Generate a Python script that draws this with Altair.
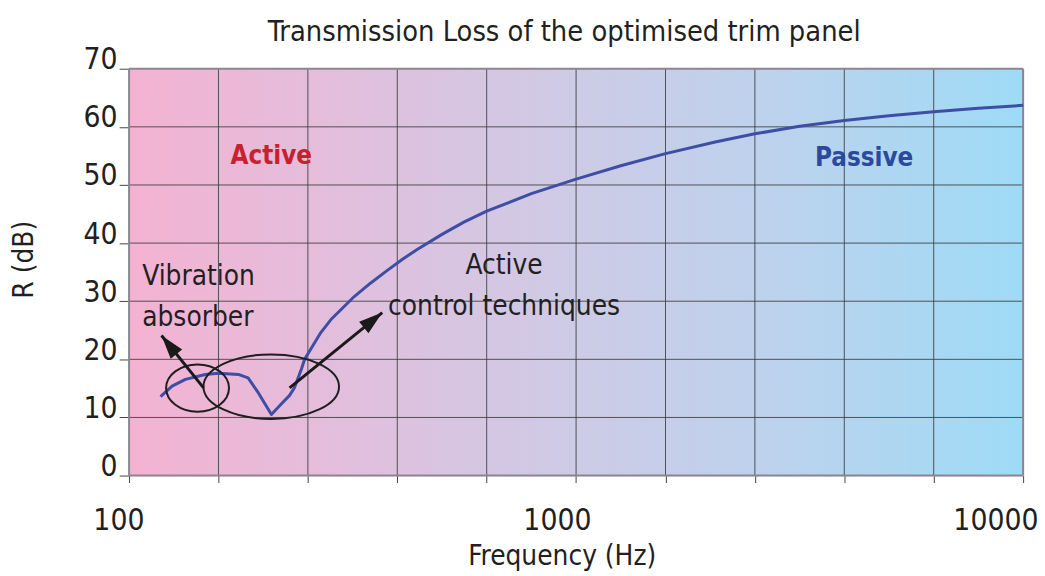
import altair as alt
import pandas as pd

FONT = "Liberation Sans Narrow, Arial Narrow, DejaVu Sans Condensed, sans-serif"
INK = "#231F20"
W, H = 901, 410

# ---- data ----
freq = [117.6, 124.8, 133.7, 148.1, 158.5, 175.6, 184.6, 194.4, 208.2, 219.0,
        228.6, 234.4, 242.9, 247.0, 268.5, 282.6, 319.0, 346.7, 378.2, 410.5,
        441.0, 501.2, 560.9, 631.0, 794.3, 1000.0, 1258.9, 1584.9, 2047.0,
        2511.9, 3162.0, 3981.0, 5012.0, 6310.0, 7943.0, 10000.0]
loss = [13.6, 15.4, 16.55, 17.4, 17.6, 17.4, 16.8, 14.3, 10.5, 12.3,
        13.8, 15.1, 18.3, 20.0, 24.6, 26.8, 30.8, 33.1, 35.3, 37.3,
        38.9, 41.5, 43.6, 45.5, 48.5, 51.0, 53.3, 55.4, 57.4,
        58.8, 60.1, 61.1, 61.9, 62.6, 63.2, 63.7]

grid_freqs = [100, 158.5, 251.2, 398.1, 631, 1000, 1585, 2512, 3981, 6310, 10000]
grid_db = [0, 10, 20, 30, 40, 50, 60, 70]
x_labels = [100, 1000, 10000]

chart_title = "Transmission Loss of the optimised trim panel"

# annotation anchors (data units)
region_text = ["Active", "Passive"]
region_x = [208.0, 4410.0]
region_y = [53.66, 53.27]

left_text = ["Vibration", "absorber"]
left_x = [107.0, 107.0]
left_y = [32.78, 25.66]

center_text = ["Active", "control techniques"]
center_x = [690.0, 690.0]
center_y = [34.6, 27.57]

ellipse_small = {"x": [142.3], "y": [15.06]}
ellipse_large = {"x": [208.0], "y": [15.3]}

arrow_tail_x = [146.8, 228.6]
arrow_tail_y = [15.1, 15.1]
arrow_head_x = [118.2, 368.5]
arrow_head_y = [24.1, 28.05]

# ---- scales & axes ----
xs = alt.Scale(type="log", domain=[100, 10000], nice=False)
ys = alt.Scale(domain=[0, 70], nice=False, zero=False)

label_expr = ("indexof([" + ",".join(str(v) for v in x_labels)
              + "], datum.value) >= 0 ? datum.label : ''")

x_axis = alt.Axis(
    values=grid_freqs, format="d", labelExpr=label_expr, grid=False, domain=False,
    ticks=True, tickSize=7, tickColor="#444", tickWidth=1,
    labelFont=FONT, labelFontSize=30, labelColor=INK, labelBaseline="alphabetic",
    labelPadding=47, labelAlign="right", labelOffset=15, labelOverlap=False, labelFlush=False,
    title="Frequency (Hz)", titleFont=FONT, titleFontSize=28, titleFontWeight="normal",
    titleColor=INK, titleBaseline="alphabetic", titleAlign="center", titleX=436, titleY=90,
)
y_axis = alt.Axis(
    values=grid_db, grid=False, domain=False, ticks=True, tickSize=10,
    tickColor="#444", tickWidth=1,
    labelFont=FONT, labelFontSize=30, labelColor=INK, labelBaseline="alphabetic",
    labelPadding=2, labelOverlap=False, labelFlush=False,
    title="R (dB)", titleFont=FONT, titleFontSize=28, titleFontWeight="normal",
    titleColor=INK, titleBaseline="alphabetic", titleAlign="center", titleAngle=270,
    titleX=-97, titleY=192,
)


def X(field, **kw):
    return alt.X(field, type="quantitative", scale=xs, axis=x_axis, **kw)


def Y(field, **kw):
    return alt.Y(field, type="quantitative", scale=ys, axis=y_axis, **kw)


grad = alt.LinearGradient(
    gradient="linear", x1=0, x2=1, y1=0, y2=0,
    stops=[
        alt.GradientStop(color="#F4B2D2", offset=0),
        alt.GradientStop(color="#DDC2DF", offset=0.3),
        alt.GradientStop(color="#CDCBE6", offset=0.5),
        alt.GradientStop(color="#BAD3EE", offset=0.75),
        alt.GradientStop(color="#9EDBF6", offset=1),
    ],
)

bg = alt.Chart(pd.DataFrame({"x": [grid_freqs[0]], "x2": [grid_freqs[-1]],
                             "y": [grid_db[0]], "y2": [grid_db[-1]]})).mark_rect(
    color=grad, strokeWidth=0
).encode(x=X("x"), x2="x2:Q", y=Y("y"), y2="y2:Q")

vgrid = alt.Chart(pd.DataFrame({"x": grid_freqs[1:-1]})).mark_rule(
    color="#3a3a3a", strokeWidth=1, opacity=0.85
).encode(x=X("x"))

hgrid = alt.Chart(pd.DataFrame({"y": grid_db[1:-1]})).mark_rule(
    color="#3a3a3a", strokeWidth=1, opacity=0.85
).encode(y=Y("y"))

vborder = alt.Chart(pd.DataFrame({"x": [grid_freqs[0], grid_freqs[-1]]})).mark_rule(
    color="#8e8590", strokeWidth=2
).encode(x=X("x"))

hborder = alt.Chart(pd.DataFrame({"y": [grid_db[0], grid_db[-1]]})).mark_rule(
    color="#8e8590", strokeWidth=2
).encode(y=Y("y"))

curve = alt.Chart(pd.DataFrame({"x": freq, "y": loss})).mark_line(
    color="#3E4EA5", strokeWidth=3, interpolate="linear", strokeJoin="round"
).encode(x=X("x"), y=Y("y"))

k = 0.5523


def ellipse_path(r):
    kr = round(k * r, 4)
    rr = round(r, 4)
    return (f"M -1 0 C -1 {-kr} {-k} {-rr} 0 {-rr} C {k} {-rr} 1 {-kr} 1 0 "
            f"C 1 {kr} {k} {rr} 0 {rr} C {-k} {rr} -1 {kr} -1 0 Z")


ell_small = alt.Chart(pd.DataFrame(ellipse_small)).mark_point(
    shape=ellipse_path(0.75), size=4020, filled=False, stroke="#1e1e1e",
    strokeWidth=2, opacity=1
).encode(x=X("x"), y=Y("y"))

ell_large = alt.Chart(pd.DataFrame(ellipse_large)).mark_point(
    shape=ellipse_path(0.476), size=18660, filled=False, stroke="#1e1e1e",
    strokeWidth=2, opacity=1
).encode(x=X("x"), y=Y("y"))

arrows_df = pd.DataFrame({"x": arrow_tail_x, "y": arrow_tail_y,
                          "hx": arrow_head_x, "hy": arrow_head_y})

arrow_lines = alt.Chart(arrows_df).mark_rule(color="#1a1a1a", strokeWidth=3).encode(
    x=X("x"), y=Y("y"), x2="hx:Q", y2="hy:Q",
)

arrow_heads = alt.Chart(arrows_df).transform_calculate(
    ang=(f"(atan2((log(datum.hx) - log(datum.x)) / LN10 * {W / 2}, "
         f"(datum.hy - datum.y) * {H / 70}) * 180 / PI + 360) % 360")
).mark_point(
    shape="M 0 0 L 0.62 2 L -0.62 2 Z", size=576, filled=True, color="#1a1a1a",
    opacity=1, strokeWidth=0
).encode(x=X("hx"), y=Y("hy"), angle=alt.Angle("ang:Q", scale=None))

region_df = pd.DataFrame({"t": region_text, "x": region_x, "y": region_y,
                          "c": ["active", "passive"]})
region_labels = alt.Chart(region_df).mark_text(
    font=FONT, fontSize=26, fontWeight="bold", align="center", baseline="alphabetic"
).encode(
    x=X("x"), y=Y("y"), text="t:N",
    color=alt.Color("c:N", scale=alt.Scale(domain=["active", "passive"],
                                           range=["#C8202F", "#2B4A9B"]), legend=None),
)

left_labels = alt.Chart(pd.DataFrame({"t": left_text, "x": left_x, "y": left_y})).mark_text(
    font=FONT, fontSize=28, color=INK, align="left", baseline="alphabetic"
).encode(x=X("x"), y=Y("y"), text="t:N")

center_labels = alt.Chart(pd.DataFrame({"t": center_text, "x": center_x, "y": center_y})).mark_text(
    font=FONT, fontSize=28, color=INK, align="center", baseline="alphabetic"
).encode(x=X("x"), y=Y("y"), text="t:N")

title_mark = alt.Chart(pd.DataFrame({"t": [chart_title]})).mark_text(
    font=FONT, fontSize=29, color=INK, align="center", baseline="alphabetic"
).encode(x=alt.value(W / 2 - 12), y=alt.value(-28), text="t:N")

chart = alt.layer(
    bg, vgrid, hgrid, vborder, hborder, curve, ell_small, ell_large,
    arrow_lines, arrow_heads, region_labels, left_labels, center_labels, title_mark,
).properties(
    width=W, height=H,
    autosize=alt.AutoSizeParams(type="none"),
    padding={"left": 122, "top": 59, "right": 14, "bottom": 99},
).configure_view(stroke=None).configure(background="white")

chart.save("out.html", embed_options={"renderer": "svg", "actions": False})
